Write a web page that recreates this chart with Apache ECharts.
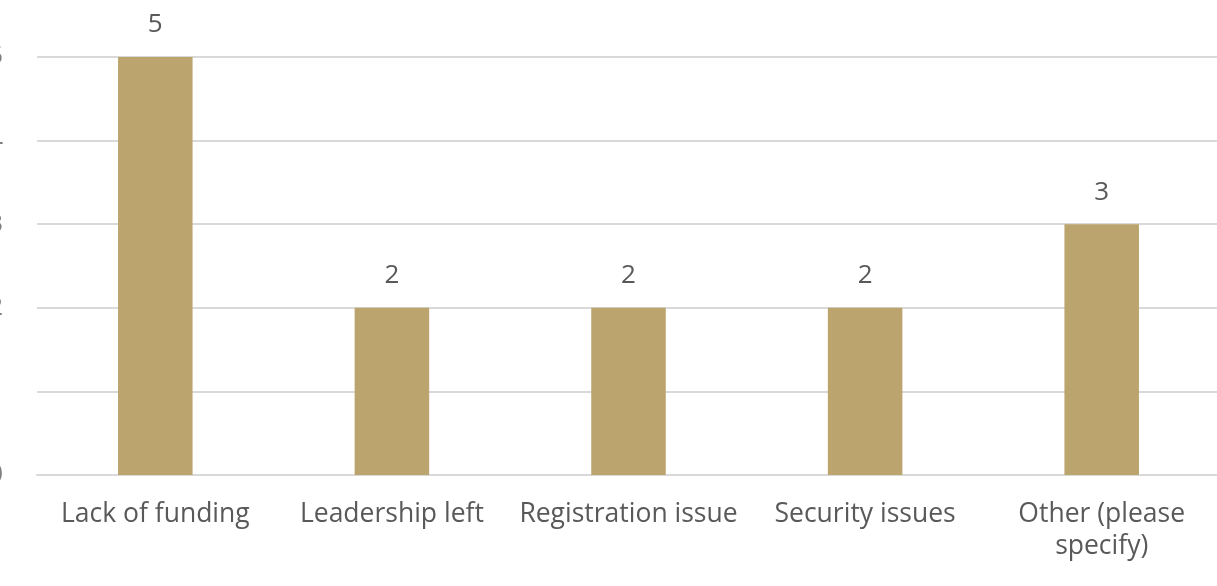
<!DOCTYPE html>
<html>
<head>
<meta charset="utf-8">
<script src="https://cdn.jsdelivr.net/npm/echarts@6/dist/echarts.min.js"></script>
<style>html,body{margin:0;padding:0;background:#fff}#c{width:1217px;height:586px}</style>
</head>
<body>
<div id="c"></div>
<script>
const categories = ['Lack of funding', 'Leadership left', 'Registration issue', 'Security issues', 'Other (please\nspecify)'];
const values = [5, 2, 2, 2, 3];
const yTicks = { min: 0, max: 5, interval: 1 };

const chart = echarts.init(document.getElementById('c'), null, { renderer: 'canvas' });
const font = "'Open Sans', 'Liberation Sans', sans-serif";
chart.setOption({
  animation: false,
  grid: { left: 37, right: -3, top: 57, bottom: 111, containLabel: false, outerBoundsMode: 'none' },
  xAxis: {
    type: 'category',
    data: categories,
    axisLine: { show: true, lineStyle: { color: '#d9d9d9', width: 2 } },
    axisTick: { show: false },
    axisLabel: { color: '#595959', fontSize: 26.5, fontFamily: font, margin: 23, lineHeight: 32, interval: 0 }
  },
  yAxis: {
    type: 'value',
    min: yTicks.min, max: yTicks.max, interval: yTicks.interval,
    axisLine: { show: false },
    axisTick: { show: false },
    splitLine: { lineStyle: { color: '#d9d9d9', width: 2 } },
    axisLabel: { color: '#7f7f7f', fontSize: 26, fontFamily: font, margin: 34 }
  },
  series: [{
    type: 'bar',
    data: values,
    barWidth: '31.5%',
    itemStyle: { color: '#BBA46D' },
    label: { show: true, position: 'top', distance: 19, color: '#595959', fontSize: 26, fontFamily: font }
  }]
});
</script>
</body>
</html>
